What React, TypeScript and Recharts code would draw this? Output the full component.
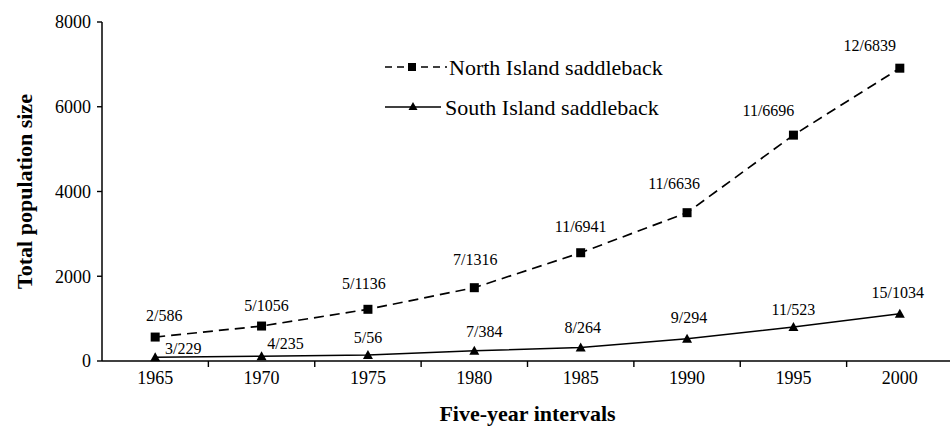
import { Label, LabelList, Legend, Line, LineChart, XAxis, YAxis } from "recharts";

// values
const YEARS = [1965, 1970, 1975, 1980, 1985, 1990, 1995, 2000];
const NORTH_TOTAL = [565, 825, 1220, 1730, 2555, 3500, 5330, 6910];
const SOUTH_TOTAL = [90, 115, 140, 240, 320, 525, 800, 1115];
const NORTH_LABELS = ["2/586", "5/1056", "5/1136", "7/1316", "11/6941", "11/6636", "11/6696", "12/6839"];
const SOUTH_LABELS = ["3/229", "4/235", "5/56", "7/384", "8/264", "9/294", "11/523", "15/1034"];
const Y_TICKS = [0, 2000, 4000, 6000, 8000];

const data = YEARS.map((year, i) => ({
  year,
  north: NORTH_TOTAL[i],
  south: SOUTH_TOTAL[i],
  northLabel: NORTH_LABELS[i],
  southLabel: SOUTH_LABELS[i],
}));

// layout / style constants
const FONT = '"Liberation Serif", "Times New Roman", serif';
const WIDTH = 960;
const HEIGHT = 429;
const PLOT_LEFT = 102;
const PLOT_RIGHT = 953;
const BAND = (PLOT_RIGHT - PLOT_LEFT) / YEARS.length;
const DASH = "10 6";

// label nudges (dx, dy) relative to each marker
const NORTH_NUDGE = [[9, -22], [5, -21], [-4, -26], [1, -28], [0, -26], [-13, -29], [-25, -25], [-30, -23]];
const SOUTH_NUDGE = [[28, -9], [24, -13], [0, -18], [10, -19], [2, -20], [2, -21], [0, -18], [-2, -21]];

function makeLabel(nudge: number[][]) {
  return (props: any) => {
    const { x, y, value, index } = props;
    const [dx, dy] = nudge[index] ?? [0, -20];
    return (
      <text
        x={Number(x) + dx}
        y={Number(y) + dy}
        textAnchor="middle"
        dominantBaseline="central"
        fontFamily={FONT}
        fontSize={16}
        fill="#000"
      >
        {value}
      </text>
    );
  };
}

function SquareDot(props: any) {
  const { cx, cy, index } = props;
  return <rect key={`sq-${index}`} x={cx - 4.5} y={cy - 4.5} width={9} height={9} fill="#000" />;
}

function TriangleDot(props: any) {
  const { cx, cy, index } = props;
  return (
    <polygon
      key={`tri-${index}`}
      points={`${cx},${cy - 5} ${cx - 5},${cy + 4} ${cx + 5},${cy + 4}`}
      fill="#000"
    />
  );
}

function YearTick(props: any) {
  const { x, y, payload } = props;
  const bx = x + BAND / 2;
  return (
    <g>
      <line x1={bx} x2={bx} y1={y} y2={y + 6} stroke="#000" strokeWidth={1.4} />
      <text x={x} y={y + 23} textAnchor="middle" fontFamily={FONT} fontSize={18} fill="#000">
        {payload.value}
      </text>
    </g>
  );
}

function LegendBox() {
  return (
    <svg width={320} height={84} style={{ display: "block" }}>
      <line x1={5} x2={67} y1={22} y2={22} stroke="#000" strokeWidth={1.5} strokeDasharray="7 5" />
      <rect x={28} y={18} width={8} height={8} fill="#000" />
      <text x={69} y={22} dominantBaseline="central" fontFamily={FONT} fontSize={22} fill="#000">
        North Island saddleback
      </text>
      <line x1={5} x2={61} y1={62} y2={62} stroke="#000" strokeWidth={1.5} />
      <polygon points="33,57 28.5,65 37.5,65" fill="#000" />
      <text x={65} y={62} dominantBaseline="central" fontFamily={FONT} fontSize={22} fill="#000">
        South Island saddleback
      </text>
    </svg>
  );
}

export default function App() {
  return (
    <div style={{ position: "absolute", left: 0, top: 0, width: 950, height: HEIGHT, overflow: "hidden", background: "#fff" }}>
      <LineChart
        width={WIDTH}
        height={HEIGHT}
        data={data}
        margin={{ top: 22, right: WIDTH - PLOT_RIGHT, left: 0, bottom: 0 }}
        style={{ fontFamily: FONT }}
      >
        <XAxis
          dataKey="year"
          type="number"
          domain={[YEARS[0] - 2.5, YEARS[YEARS.length - 1] + 2.5]}
          ticks={YEARS}
          height={68}
          tickLine={false}
          tickSize={0}
          tickMargin={0}
          tick={<YearTick />}
          axisLine={{ stroke: "#000", strokeWidth: 1.5 }}
        >
          <Label
            content={(p: any) => {
              const vb = p.viewBox;
              return (
                <text
                  x={vb.x + vb.width / 2}
                  y={vb.y + 52}
                  textAnchor="middle"
                  dominantBaseline="central"
                  fontFamily={FONT}
                  fontWeight="bold"
                  fontSize={22}
                  fill="#000"
                >
                  Five-year intervals
                </text>
              );
            }}
          />
        </XAxis>
        <YAxis
          width={PLOT_LEFT}
          domain={[0, 8000]}
          ticks={Y_TICKS}
          tickSize={5}
          tickMargin={6}
          tick={{ fontSize: 18, fill: "#000", fontFamily: FONT }}
          tickLine={{ stroke: "#000", strokeWidth: 1.4 }}
          axisLine={{ stroke: "#000", strokeWidth: 1.5 }}
        >
          <Label
            content={(p: any) => {
              const vb = p.viewBox;
              const cx = 24;
              const cy = vb.y + vb.height / 2;
              return (
                <text
                  x={cx}
                  y={cy}
                  transform={`rotate(-90 ${cx} ${cy})`}
                  textAnchor="middle"
                  dominantBaseline="central"
                  fontFamily={FONT}
                  fontWeight="bold"
                  fontSize={22}
                  fill="#000"
                >
                  Total population size
                </text>
              );
            }}
          />
        </YAxis>
        <Legend
          layout="vertical"
          align="center"
          verticalAlign="middle"
          content={<LegendBox />}
          wrapperStyle={{ left: 380, top: 45, width: 320, height: 84 }}
        />
        <Line
          dataKey="north"
          name="North Island saddleback"
          stroke="#000"
          strokeWidth={1.7}
          strokeDasharray={DASH}
          dot={SquareDot}
          activeDot={false}
          isAnimationActive={false}
        >
          <LabelList dataKey="northLabel" content={makeLabel(NORTH_NUDGE)} />
        </Line>
        <Line
          dataKey="south"
          name="South Island saddleback"
          stroke="#000"
          strokeWidth={1.5}
          dot={TriangleDot}
          activeDot={false}
          isAnimationActive={false}
        >
          <LabelList dataKey="southLabel" content={makeLabel(SOUTH_NUDGE)} />
        </Line>
      </LineChart>
    </div>
  );
}
